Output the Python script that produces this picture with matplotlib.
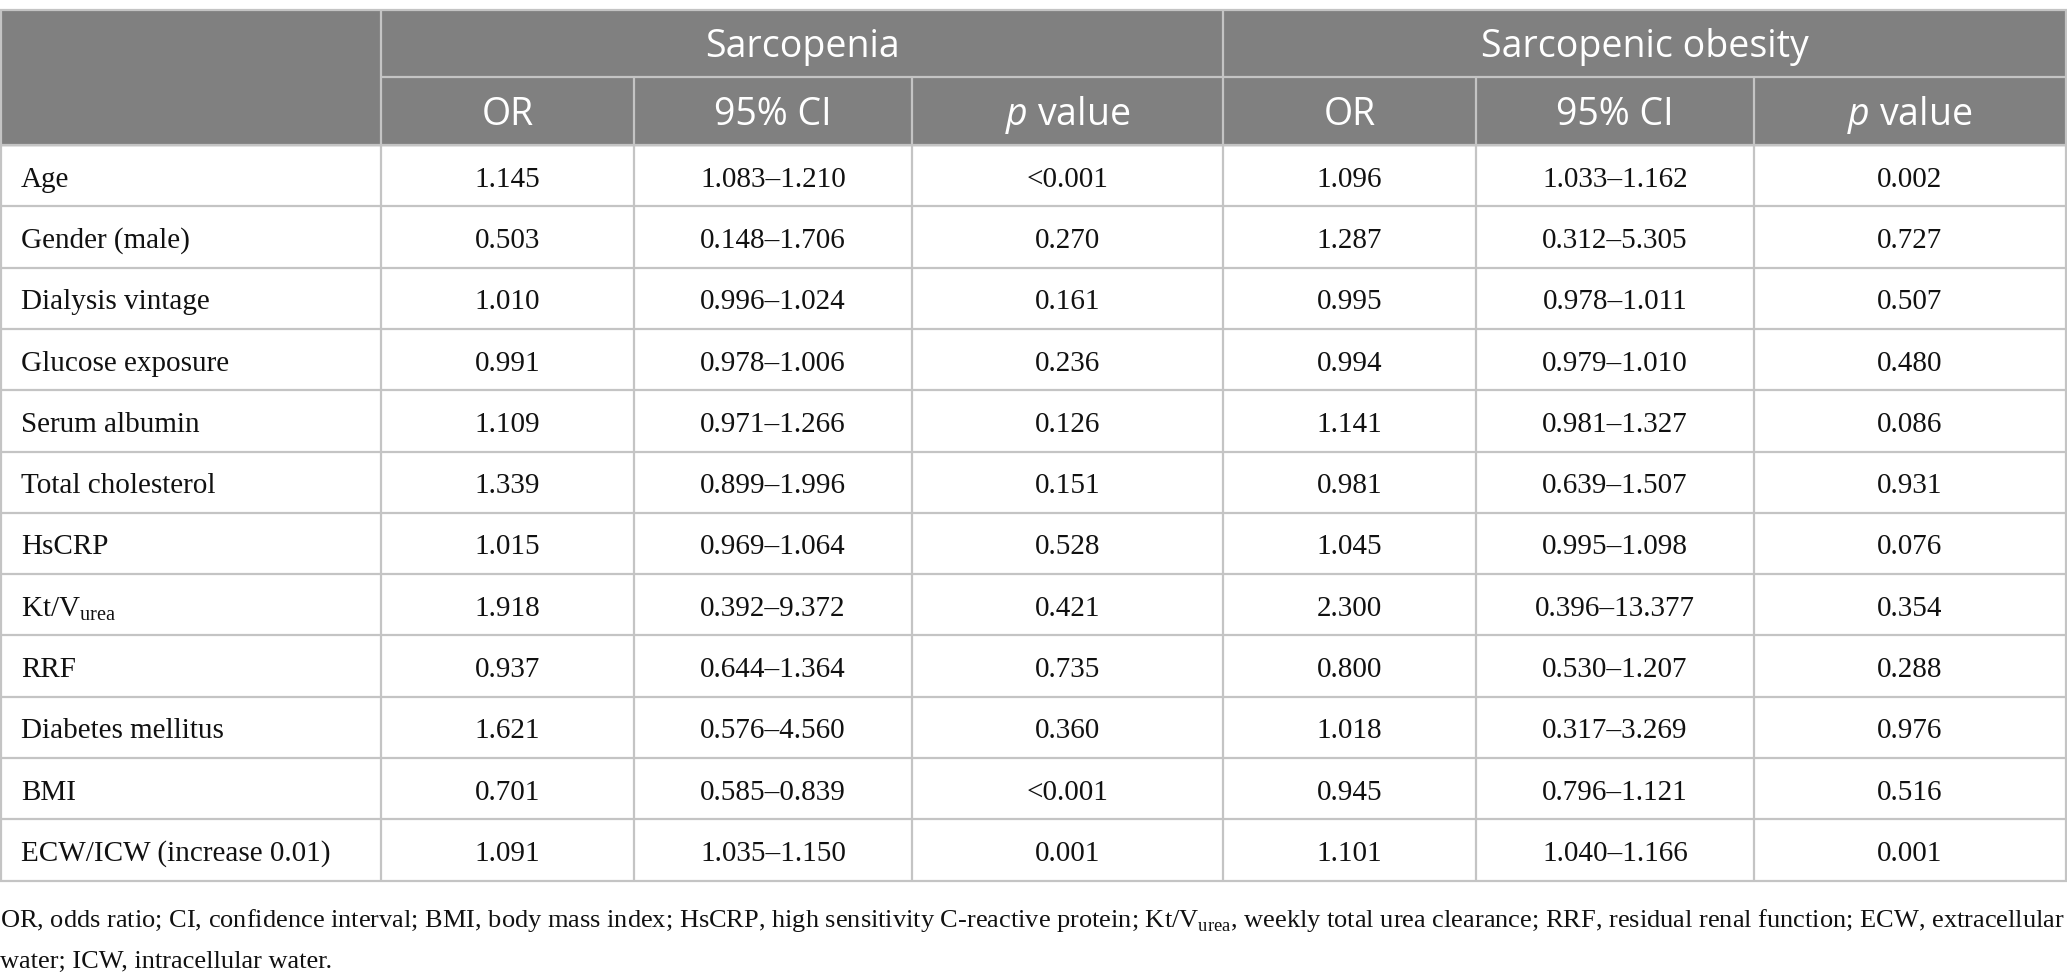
import matplotlib
matplotlib.use("Agg")
import matplotlib.pyplot as plt
from matplotlib.patches import Rectangle

# table content
rows = ["Age", "Gender (male)", "Dialysis vintage", "Glucose exposure", "Serum albumin",
        "Total cholesterol", "HsCRP", "Kt/V$_\\mathregular{urea}$", "RRF", "Diabetes mellitus",
        "BMI", "ECW/ICW (increase 0.01)"]
groups = ["Sarcopenia", "Sarcopenic obesity"]
sub_headers = ["OR", "95% CI", "$\\mathit{p}$ value"]

sarc_or = ["1.145", "0.503", "1.010", "0.991", "1.109", "1.339", "1.015", "1.918", "0.937", "1.621", "0.701", "1.091"]
sarc_ci = ["1.083\u20131.210", "0.148\u20131.706", "0.996\u20131.024", "0.978\u20131.006", "0.971\u20131.266",
           "0.899\u20131.996", "0.969\u20131.064", "0.392\u20139.372", "0.644\u20131.364", "0.576\u20134.560",
           "0.585\u20130.839", "1.035\u20131.150"]
sarc_p = ["<0.001", "0.270", "0.161", "0.236", "0.126", "0.151", "0.528", "0.421", "0.735", "0.360", "<0.001", "0.001"]

so_or = ["1.096", "1.287", "0.995", "0.994", "1.141", "0.981", "1.045", "2.300", "0.800", "1.018", "0.945", "1.101"]
so_ci = ["1.033\u20131.162", "0.312\u20135.305", "0.978\u20131.011", "0.979\u20131.010", "0.981\u20131.327",
         "0.639\u20131.507", "0.995\u20131.098", "0.396\u201313.377", "0.530\u20131.207", "0.317\u20133.269",
         "0.796\u20131.121", "1.040\u20131.166"]
so_p = ["0.002", "0.727", "0.507", "0.480", "0.086", "0.931", "0.076", "0.354", "0.288", "0.976", "0.516", "0.001"]

footnote = ["OR, odds ratio; CI, confidence interval; BMI, body mass index; HsCRP, high sensitivity C-reactive protein; "
            "Kt/V$_\\mathregular{urea}$, weekly total urea clearance; RRF, residual renal function; ECW, extracellular",
            "water; ICW, intracellular water."]

plt.rcParams['mathtext.fontset'] = 'custom'
plt.rcParams['mathtext.it'] = 'Open Sans:italic'
plt.rcParams['mathtext.rm'] = 'Open Sans'

W, H = 2067, 976
fig = plt.figure(figsize=(W / 100, H / 100), dpi=100)
ax = fig.add_axes([0, 0, 1, 1])
ax.set_xlim(0, W)
ax.set_ylim(H, 0)
ax.axis("off")

# layout (pixels)
col_x = [1, 381, 634, 912, 1223, 1476, 1754, 2066]
top, h1, h2 = 10, 77, 145
row_h = 61.3
bottom = h2 + row_h * len(rows)
grey = "#808080"
line_c = "#c4c4c4"
lw = 1.6

ax.add_patch(Rectangle((0, top), W, h2 - top, color=grey, zorder=0))

head_font = dict(family="Open Sans", color="white", fontsize=27, ha="center", va="center")
body_font = dict(family="Liberation Serif", color="#111111", fontsize=21, va="center")

for g, name in enumerate(groups):
    x0, x1 = col_x[1 + 3 * g], col_x[4 + 3 * g]
    ax.text((x0 + x1) / 2, (top + h1) / 2 + 4, name, **head_font)
    for k, s in enumerate(sub_headers):
        ax.text((col_x[1 + 3 * g + k] + col_x[2 + 3 * g + k]) / 2, (h1 + h2) / 2 + 4, s, **head_font)

cols = [sarc_or, sarc_ci, sarc_p, so_or, so_ci, so_p]
for i, name in enumerate(rows):
    yc = h2 + row_h * (i + 0.5) + 4
    ax.text(21, yc, name, ha="left", **body_font)
    for c, vals in enumerate(cols):
        ax.text((col_x[c + 1] + col_x[c + 2]) / 2, yc, vals[i], ha="center", **body_font)

# grid lines
ax.hlines([top], 0, W, color=line_c, lw=lw)
ax.hlines([h1], col_x[1], W, color=line_c, lw=lw)
ax.hlines([h2 + row_h * i for i in range(len(rows) + 1)], 0, W, color=line_c, lw=lw)
ax.vlines([col_x[0], col_x[1], col_x[4], col_x[7]], top, bottom, color=line_c, lw=lw)
ax.vlines([col_x[2], col_x[3], col_x[5], col_x[6]], h1, bottom, color=line_c, lw=lw)

for j, line in enumerate(footnote):
    ax.text(0, 920 + 42 * j, line, ha="left", family="Liberation Serif", fontsize=19,
            color="#111111", va="center")

fig.savefig("out.png", dpi=100)
